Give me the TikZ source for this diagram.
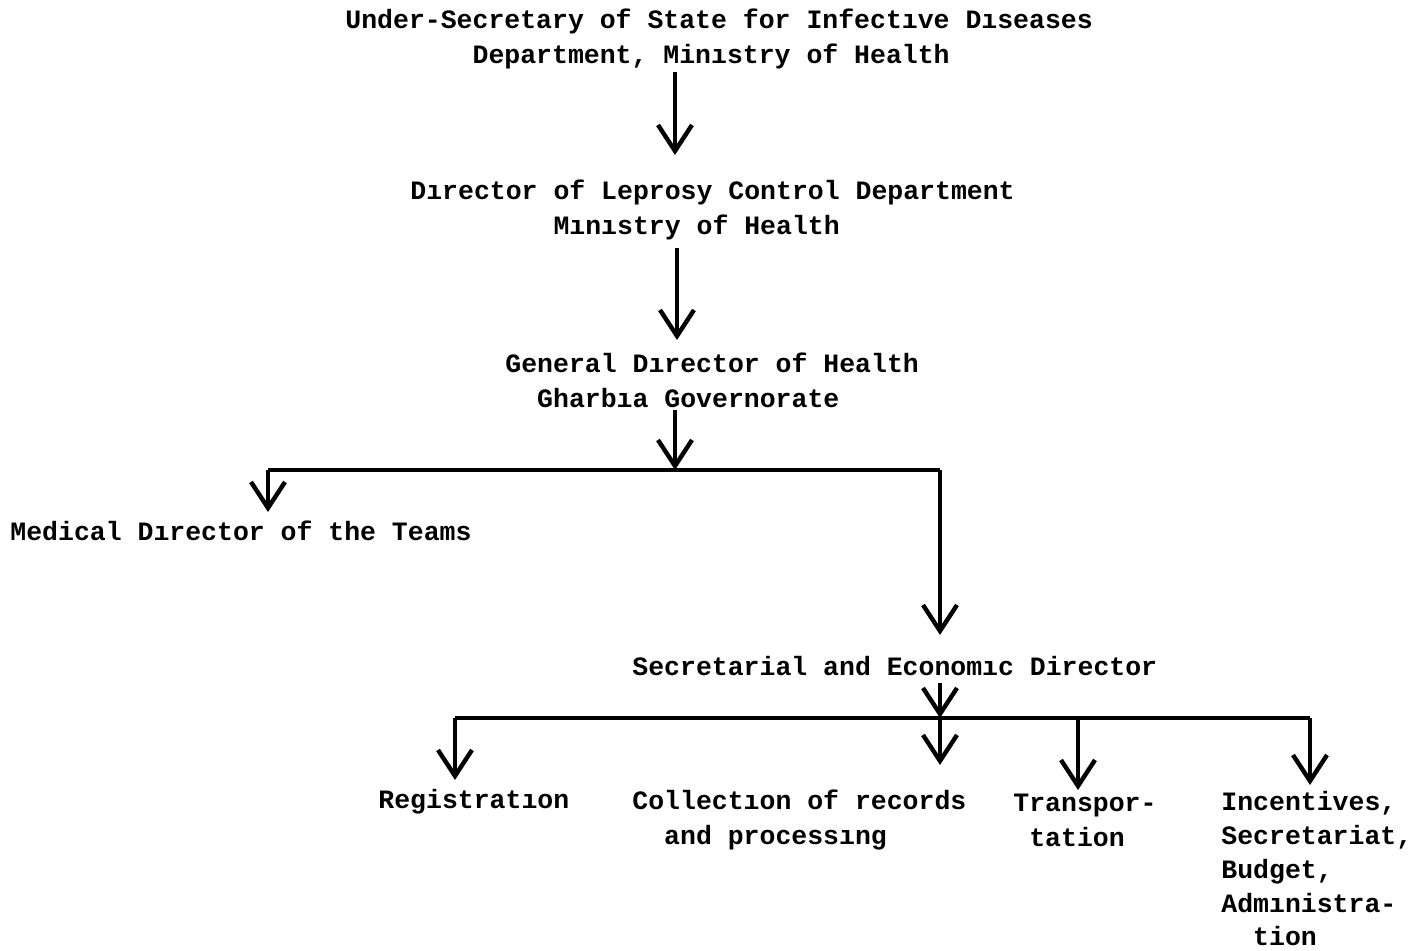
\documentclass[tikz,border=0pt]{standalone}
\usepackage{fontspec}
\setmonofont{Liberation Mono}
\usetikzlibrary{arrows.meta}
\newcommand{\ind}[1]{\hphantom{#1}}
\begin{document}
\begin{tikzpicture}[x=0.5pt,y=-0.5pt,
  txt/.style={font=\ttfamily\bfseries\fontsize{13.25pt}{17.5pt}\selectfont, inner sep=0pt, align=left, anchor=west},
  conn/.style={line width=1.6pt},
  arr/.style={conn, -{Straight Barb[length=13pt,width=17pt,line width=2.2pt]}}]
\useasboundingbox (0,0) rectangle (1425,951);

\node[txt] (us) at (345,39) {Under-Secretary of State for Infectıve Dıseases\\\ind{xxxxxxxx}Department, Minıstry of Health};
\node[txt] (dl) at (410,210) {Dırector of Leprosy Control Department\\\ind{xxxxxxxxx}Mınıstry of Health};
\node[txt] (gd) at (505,380) {General Dırector of Health\\\ind{xx}Gharbıa Governorate};
\node[txt] (md) at (10,531) {Medical Dırector of the Teams};
\node[txt] (sd) at (632,666) {Secretarial and Economıc Director};
\node[txt] (reg) at (378,802) {Registratıon};
\node[txt] (col) at (632,820) {Collectıon of records\\\ind{xx}and processıng};
\node[txt] (tr) at (1013,820) {Transpor-\\\ind{x}tation};
\node[txt, anchor=north west, font=\ttfamily\bfseries\fontsize{13.25pt}{16.9pt}\selectfont] (inc) at (1221,791) {Incentives,\\Secretariat,\\Budget,\\Admınistra-\\\ind{xx}tion};

% arrow tips and junctions
\coordinate (s1) at (675,72);
\coordinate (a1) at (675,155);
\coordinate (s2) at (677,248);
\coordinate (a2) at (677,340);
\coordinate (s3) at (675,410);
\coordinate (j1) at (675,470);
\coordinate (l1) at (268,470);
\coordinate (r1) at (940,470);
\coordinate (m1) at (268,512);
\coordinate (e1) at (940,635);
\coordinate (s4) at (940,683);
\coordinate (j2) at (940,718);
\coordinate (e2) at (940,765);
\coordinate (l2) at (455,718);
\coordinate (el2) at (455,780);
\coordinate (t2) at (1078,718);
\coordinate (et2) at (1078,790);
\coordinate (r2) at (1310,718);
\coordinate (er2) at (1310,785);

\draw[arr] (s1) -- (a1);
\draw[arr] (s2) -- (a2);
\draw[arr] (s3) -- (j1);
\draw[conn] (l1) -- (r1);
\draw[arr] (l1) -- (m1);
\draw[arr] (r1) -- (e1);
\draw[arr] (s4) -- (j2);
\draw[arr] (j2) -- (e2);
\draw[conn] (l2) -- (r2);
\draw[arr] (l2) -- (el2);
\draw[arr] (t2) -- (et2);
\draw[arr] (r2) -- (er2);
\end{tikzpicture}
\end{document}
